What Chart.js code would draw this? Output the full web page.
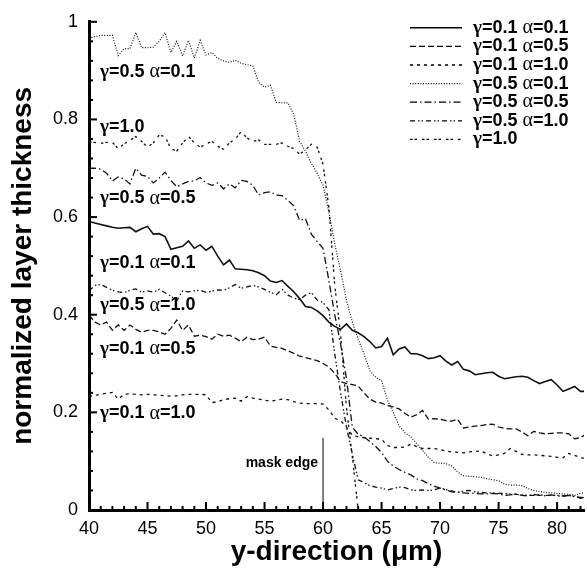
<!DOCTYPE html>
<html>
<head>
<meta charset="utf-8">
<script src="https://cdn.jsdelivr.net/npm/chart.js@4"></script>
<style>
  html, body { margin: 0; padding: 0; background: #fff; }
  #wrap { width: 587px; height: 575px; }
</style>
</head>
<body>
<div id="wrap"><canvas id="thicknessChart" width="587" height="575"></canvas></div>
<script>
// y-direction positions (um), sampled every 0.5
const yPos = [
  40, 40.5, 41, 41.5, 42, 42.5, 43, 43.5, 44, 44.5,
  45, 45.5, 46, 46.5, 47, 47.5, 48, 48.5, 49, 49.5,
  50, 50.5, 51, 51.5, 52, 52.5, 53, 53.5, 54, 54.5,
  55, 55.5, 56, 56.5, 57, 57.5, 58, 58.5, 59, 59.5,
  60, 60.5, 61, 61.5, 62, 62.5, 63, 63.5, 64, 64.5,
  65, 65.5, 66, 66.5, 67, 67.5, 68, 68.5, 69, 69.5,
  70, 70.5, 71, 71.5, 72, 72.5, 73, 73.5, 74, 74.5,
  75, 75.5, 76, 76.5, 77, 77.5, 78, 78.5, 79, 79.5,
  80, 80.5, 81, 81.5, 82, 82.5
];

const g01a01 = [
  0.591, 0.588, 0.585, 0.582, 0.579, 0.577, 0.578, 0.579, 0.570, 0.576,
  0.581, 0.565, 0.566, 0.560, 0.534, 0.537, 0.540, 0.551, 0.536, 0.543,
  0.532, 0.540, 0.520, 0.502, 0.512, 0.494, 0.493, 0.492, 0.490, 0.486,
  0.480, 0.469, 0.466, 0.470, 0.458, 0.447, 0.433, 0.417, 0.415, 0.408,
  0.398, 0.385, 0.376, 0.370, 0.381, 0.368, 0.363, 0.355, 0.345, 0.332,
  0.335, 0.352, 0.318, 0.330, 0.334, 0.320, 0.320, 0.316, 0.310, 0.312,
  0.316, 0.305, 0.297, 0.304, 0.288, 0.285, 0.277, 0.279, 0.281, 0.282,
  0.274, 0.269, 0.271, 0.273, 0.274, 0.272, 0.265, 0.259, 0.263, 0.267,
  0.256, 0.243, 0.248, 0.253, 0.243, 0.243
];

const g01a05 = [
  0.399, 0.385, 0.379, 0.385, 0.368, 0.379, 0.368, 0.379, 0.370, 0.364,
  0.368, 0.368, 0.365, 0.360, 0.372, 0.389, 0.368, 0.379, 0.356, 0.358,
  0.355, 0.350, 0.360, 0.356, 0.358, 0.352, 0.345, 0.354, 0.349, 0.350,
  0.354, 0.336, 0.333, 0.331, 0.326, 0.321, 0.315, 0.312, 0.309, 0.306,
  0.300, 0.293, 0.280, 0.263, 0.259, 0.257, 0.254, 0.240, 0.227, 0.221,
  0.219, 0.214, 0.211, 0.207, 0.198, 0.190, 0.195, 0.204, 0.186, 0.187,
  0.186, 0.183, 0.182, 0.186, 0.168, 0.170, 0.172, 0.173, 0.175, 0.176,
  0.170, 0.167, 0.166, 0.166, 0.160, 0.152, 0.161, 0.158, 0.156, 0.157,
  0.158, 0.158, 0.156, 0.146, 0.148, 0.156
];

const g01a10 = [
  0.233, 0.235, 0.237, 0.239, 0.241, 0.227, 0.237, 0.238, 0.237, 0.236,
  0.237, 0.236, 0.235, 0.234, 0.233, 0.234, 0.236, 0.237, 0.237, 0.237,
  0.236, 0.220, 0.222, 0.226, 0.228, 0.229, 0.223, 0.232, 0.229, 0.227,
  0.225, 0.223, 0.225, 0.227, 0.226, 0.222, 0.219, 0.218, 0.218, 0.218,
  0.217, 0.205, 0.188, 0.183, 0.170, 0.153, 0.150, 0.148, 0.147, 0.146,
  0.145, 0.132, 0.128, 0.128, 0.129, 0.135, 0.130, 0.126, 0.126, 0.126,
  0.124, 0.121, 0.119, 0.118, 0.117, 0.119, 0.120, 0.121, 0.115, 0.111,
  0.113, 0.116, 0.126, 0.120, 0.114, 0.113, 0.113, 0.112, 0.111, 0.110,
  0.108, 0.107, 0.116, 0.112, 0.107, 0.106
];

const g05a01 = [
  0.966, 0.970, 0.972, 0.972, 0.972, 0.931, 0.945, 0.945, 0.978, 0.947,
  0.947, 0.948, 0.960, 0.978, 0.937, 0.960, 0.930, 0.962, 0.926, 0.962,
  0.932, 0.937, 0.925, 0.920, 0.917, 0.921, 0.915, 0.912, 0.910, 0.876,
  0.866, 0.870, 0.835, 0.834, 0.834, 0.810, 0.755, 0.735, 0.710, 0.690,
  0.665, 0.610, 0.545, 0.490, 0.430, 0.385, 0.350, 0.320, 0.285, 0.272,
  0.265, 0.225, 0.200, 0.172, 0.158, 0.150, 0.136, 0.122, 0.108, 0.097,
  0.096, 0.095, 0.090, 0.078, 0.070, 0.069, 0.068, 0.067, 0.064, 0.062,
  0.060, 0.053, 0.051, 0.051, 0.050, 0.044, 0.040, 0.038, 0.036, 0.035,
  0.034, 0.033, 0.032, 0.030, 0.034, 0.036
];

const g05a05 = [
  0.700, 0.700, 0.698, 0.690, 0.674, 0.682, 0.678, 0.668, 0.700, 0.686,
  0.683, 0.670, 0.680, 0.692, 0.675, 0.662, 0.668, 0.673, 0.674, 0.681,
  0.670, 0.665, 0.670, 0.658, 0.668, 0.660, 0.675, 0.673, 0.665, 0.645,
  0.650, 0.652, 0.645, 0.644, 0.634, 0.623, 0.593, 0.597, 0.565, 0.550,
  0.536, 0.470, 0.400, 0.340, 0.270, 0.170, 0.155, 0.150, 0.140, 0.130,
  0.118, 0.100, 0.090, 0.083, 0.077, 0.072, 0.064, 0.060, 0.054, 0.049,
  0.045, 0.041, 0.037, 0.036, 0.035, 0.034, 0.034, 0.033, 0.033, 0.034,
  0.033, 0.030, 0.031, 0.033, 0.030, 0.029, 0.032, 0.030, 0.029, 0.031,
  0.029, 0.028, 0.030, 0.027, 0.026, 0.025
];

const g05a10 = [
  0.449, 0.460, 0.462, 0.456, 0.450, 0.447, 0.445, 0.450, 0.453, 0.446,
  0.449, 0.446, 0.452, 0.445, 0.438, 0.429, 0.449, 0.447, 0.449, 0.450,
  0.446, 0.448, 0.451, 0.450, 0.455, 0.462, 0.454, 0.457, 0.460, 0.457,
  0.452, 0.446, 0.441, 0.452, 0.440, 0.434, 0.431, 0.440, 0.445, 0.430,
  0.425, 0.410, 0.320, 0.240, 0.170, 0.115, 0.062, 0.056, 0.050, 0.047,
  0.045, 0.041, 0.044, 0.047, 0.046, 0.041, 0.040, 0.041, 0.040, 0.041,
  0.045, 0.042, 0.039, 0.036, 0.039, 0.040, 0.037, 0.036, 0.035, 0.035,
  0.034, 0.034, 0.033, 0.032, 0.031, 0.030, 0.030, 0.031, 0.030, 0.030,
  0.030, 0.029, 0.030, 0.028, 0.024, 0.026
];

// gamma=1.0 stops at the wall (y = 63)
const g10 = [
  0.753, 0.753, 0.751, 0.753, 0.753, 0.740, 0.750, 0.757, 0.765, 0.755,
  0.743, 0.752, 0.768, 0.765, 0.740, 0.735, 0.752, 0.765, 0.752, 0.743,
  0.750, 0.755, 0.745, 0.739, 0.752, 0.760, 0.775, 0.762, 0.755, 0.758,
  0.749, 0.749, 0.749, 0.752, 0.745, 0.740, 0.729, 0.738, 0.749, 0.743,
  0.708, 0.620, 0.460, 0.360, 0.210, 0.110, 0.000
];

const seriesNames = ["γ=0.1 α=0.1", "γ=0.1 α=0.5", "γ=0.1 α=1.0", "γ=0.5 α=0.1",
                     "γ=0.5 α=0.5", "γ=0.5 α=1.0", "γ=1.0"];
const seriesValues = [g01a01, g01a05, g01a10, g05a01, g05a05, g05a10, g10];
const dashes = [[], [6, 3], [3, 4], [1, 1.6], [7, 3, 1.5, 3], [5, 3, 1.5, 2, 1.5, 3], [2.5, 2, 2.5, 5]];
const widths = [1.6, 1.3, 1.3, 1.2, 1.3, 1.3, 1.3];

// curve labels inside the plot: [text, y-direction, thickness]
const curveLabels = [
  ["γ=0.5 α=0.1", 40.95, 0.897],
  ["γ=1.0", 40.95, 0.785],
  ["γ=0.5 α=0.5", 40.95, 0.638],
  ["γ=0.1 α=0.1", 40.95, 0.506],
  ["γ=0.5 α=1.0", 40.95, 0.419],
  ["γ=0.1 α=0.5", 40.95, 0.330],
  ["γ=0.1 α=1.0", 40.95, 0.198]
];
const maskEdgeX = 60;
const maskEdgeTop = 0.148;

const SANS = "'Liberation Sans', Arial, sans-serif";
const SERIF = "'Liberation Serif', 'Times New Roman', serif";

// draw text where greek letters use a serif face
function richText(ctx, str, x, y, size) {
  let cx = x;
  for (const ch of str) {
    if (ch === "γ") ctx.font = "bold " + (size + 1) + "px " + SERIF;
    else if (ch === "α") ctx.font = (size + 2) + "px " + SERIF;
    else ctx.font = "bold " + size + "px " + SANS;
    ctx.fillText(ch, cx, y);
    cx += ctx.measureText(ch).width;
  }
  return cx;
}

const decorPlugin = {
  id: "decor",
  afterDatasetsDraw(chart) {
    const ctx = chart.ctx;
    const xs = chart.scales.x, ys = chart.scales.y;
    const area = chart.chartArea;
    ctx.save();
    ctx.strokeStyle = "#000";
    ctx.fillStyle = "#000";

    // inward ticks
    ctx.lineWidth = 2;
    for (let v = 40; v <= 82; v++) {
      const px = xs.getPixelForValue(v);
      const major = v % 5 === 0;
      ctx.beginPath();
      ctx.moveTo(px, area.bottom);
      ctx.lineTo(px, area.bottom - (major ? 8 : 4));
      ctx.stroke();
    }
    for (let i = 0; i <= 25; i++) {
      const py = ys.getPixelForValue(i * 0.04);
      const major = i % 5 === 0;
      ctx.beginPath();
      ctx.moveTo(area.left, py);
      ctx.lineTo(area.left + (major ? 8 : 4), py);
      ctx.stroke();
    }

    // curve labels
    ctx.textBaseline = "middle";
    ctx.textAlign = "left";
    curveLabels.forEach(([txt, x, y]) => {
      richText(ctx, txt, xs.getPixelForValue(x), ys.getPixelForValue(y), 18);
    });

    // mask edge text
    ctx.font = "bold 14px " + SANS;
    ctx.textAlign = "right";
    ctx.fillText("mask edge", xs.getPixelForValue(maskEdgeX) - 5, ys.getPixelForValue(0.095));

    // legend
    ctx.textAlign = "left";
    seriesNames.forEach((name, i) => {
      const ly = area.top + 6 + i * 18.6;
      ctx.setLineDash(dashes[i]);
      ctx.lineWidth = widths[i];
      ctx.beginPath();
      ctx.moveTo(area.right - 174, ly);
      ctx.lineTo(area.right - 122, ly);
      ctx.stroke();
      ctx.setLineDash([]);
      richText(ctx, name, area.right - 111, ly, 18);
    });
    ctx.restore();
  }
};

const datasets = seriesValues.map((vals, i) => ({
  label: seriesNames[i],
  data: vals.map((v, j) => ({ x: yPos[j], y: v })),
  borderColor: "#111",
  borderWidth: widths[i],
  borderDash: dashes[i],
  pointRadius: 0,
  tension: 0,
  fill: false
}));
datasets.push({
  label: "mask edge",
  data: [{ x: maskEdgeX, y: 0 }, { x: maskEdgeX, y: maskEdgeTop }],
  borderColor: "#000",
  borderWidth: 1,
  pointRadius: 0
});

new Chart(document.getElementById("thicknessChart").getContext("2d"), {
  type: "line",
  data: { datasets: datasets },
  options: {
    responsive: false,
    animation: false,
    devicePixelRatio: 1,
    layout: { padding: { top: 16, right: 3, left: 0, bottom: 0 } },
    plugins: { legend: { display: false }, tooltip: { enabled: false } },
    scales: {
      x: {
        type: "linear",
        min: 40,
        max: 82.3,
        afterFit: (s) => { s.height = 65; },
        grid: { display: false, drawTicks: false },
        border: { display: true, width: 3, color: "#000" },
        ticks: {
          stepSize: 5, includeBounds: false, autoSkip: false, maxRotation: 0, padding: 8,
          color: "#000", font: { family: SANS, size: 18 }
        },
        title: {
          display: true,
          text: "y-direction (μm)",
          color: "#000",
          padding: { top: 0, bottom: 6 },
          font: { family: SANS, size: 28, weight: "bold", lineHeight: 1.2 }
        }
      },
      y: {
        min: 0,
        max: 1,
        afterFit: (s) => { s.width = 89; },
        grid: { display: false, drawTicks: false },
        border: { display: true, width: 3, color: "#000" },
        ticks: {
          stepSize: 0.2, padding: 11, color: "#000", font: { family: SANS, size: 18 },
          callback: (v) => String(+v.toFixed(2))
        },
        title: {
          display: true,
          text: "normalized layer thickness",
          color: "#000",
          padding: { top: 6, bottom: 0 },
          font: { family: SANS, size: 28, weight: "bold", lineHeight: 1.2 }
        }
      }
    }
  },
  plugins: [decorPlugin]
});
</script>
</body>
</html>
